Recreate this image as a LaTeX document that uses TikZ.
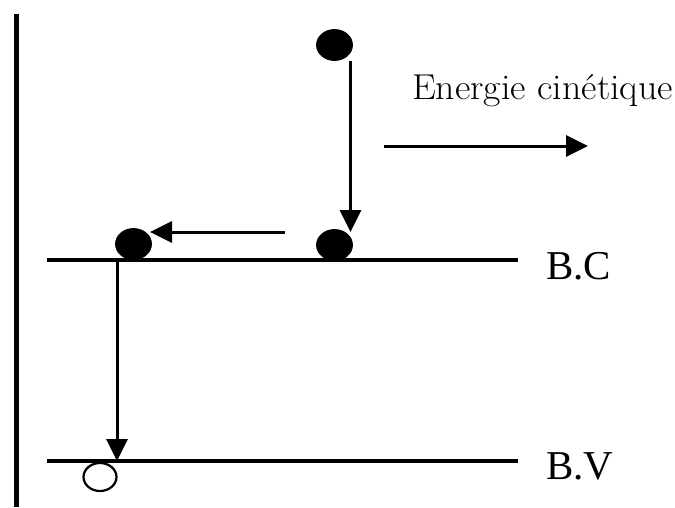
\documentclass[tikz,border=0pt]{standalone}
\usepackage{fontspec}
\usepackage{graphicx}
\newfontfamily\timesfont{Liberation Serif}
\usetikzlibrary{arrows.meta,shapes.geometric}
\tikzset{
  band/.style={line width=3.2pt},
  elec/.style={ellipse, fill=black, draw=black, line width=0.8pt, minimum width=36pt, minimum height=31pt, inner sep=0pt},
  hole/.style={ellipse, fill=white, draw=black, line width=2.2pt, minimum width=33pt, minimum height=28pt, inner sep=0pt},
  arr/.style={line width=3pt, -{Triangle[length=22pt,width=21pt]}},
  lab/.style={font=\timesfont\fontsize{41}{41}\selectfont, inner sep=0pt, anchor=base west},
}
\begin{document}
\begin{tikzpicture}[x=1pt,y=-1pt]
\useasboundingbox (0,0) rectangle (675,507);
% left bar
\draw[line width=5pt] (16.5,14) -- (16.5,507);
% bands
\coordinate (bcl) at (47,260); \coordinate (bcr) at (518,260);
\coordinate (bvl) at (47,461); \coordinate (bvr) at (518,461);
\draw[band] (bcl) -- (bcr);
\draw[band] (bvl) -- (bvr);
\node[lab] (bc) at (546,279) {B.C};
\node[lab] (bv) at (546,479) {B.V};
% electrons
\node[elec] (e1) at (334.5,45) {};
\node[elec] (e2) at (334.5,245) {};
\node[elec] (e3) at (133.5,244) {};
\node[hole] (h) at (100,477) {};
% arrows
\coordinate (a1s) at (350.5,61);
\coordinate (a1e) at (350.5,232);
\draw[arr] (a1s) -- (a1e);
\coordinate (a2s) at (285,232);
\coordinate (a2e) at (150,232);
\draw[arr] (a2s) -- (a2e);
\coordinate (a3s) at (117,260);
\coordinate (a3e) at (117,461);
\draw[arr] (a3s) -- (a3e);
\coordinate (a4s) at (384,146);
\coordinate (a4e) at (588,146);
\draw[arr] (a4s) -- (a4e);
\node[inner sep=0pt, anchor=base west] (ek) at (412,99) {\scalebox{1.05}[1]{\fontsize{36}{36}\selectfont Energie cinétique}};
\end{tikzpicture}
\end{document}
